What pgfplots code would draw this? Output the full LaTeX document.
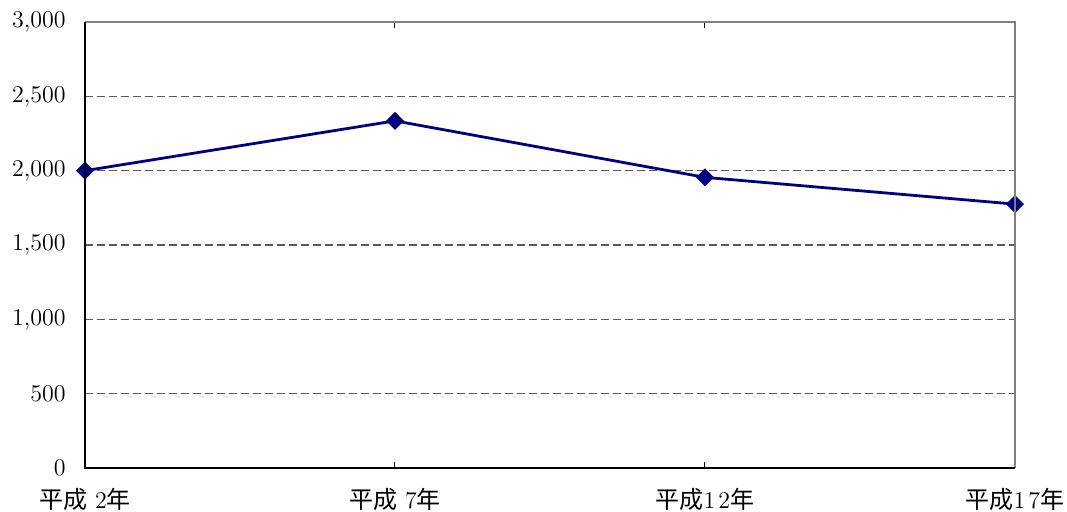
\documentclass[border=0pt]{standalone}
\usepackage{pgfplots}
\pgfplotsset{compat=1.18}
\usepackage{fontspec}
\newfontfamily\cjk{Noto Sans CJK JP}
\definecolor{navyline}{RGB}{0,0,128}
\definecolor{gridgray}{RGB}{90,90,90}
\definecolor{boxgray}{RGB}{128,128,128}
\begin{document}
\begin{tikzpicture}
\begin{axis}[
  scale only axis,
  width=465pt, height=223pt,
  xmin=0, xmax=3, ymin=0, ymax=3000,
  xtick={0,1,2,3},
  xticklabels={{\cjk 平成}\,\,2{\cjk 年},{\cjk 平成}\,\,7{\cjk 年},{\cjk 平成}1\kern1.5pt2{\cjk 年},{\cjk 平成}1\kern1.5pt7{\cjk 年}},
  ytick={0,500,1000,1500,2000,2500,3000},
  yticklabels={0,500,{1,000},{1,500},{2,000},{2,500},{3,000}},
  tick label style={font=\fontsize{12}{14}\selectfont},
  yticklabel style={inner sep=0pt, xshift=-9.5pt},
  xticklabel style={inner sep=0pt, anchor=north, yshift=-10pt, font=\fontsize{12}{14}\selectfont},
  tick align=inside,
  major tick length=3pt,
  ytick style={draw=none},
  xtick style={black, line width=0.5pt},
  axis line style={draw=none},
  ymajorgrids,
  grid style={gridgray, line width=0.6pt, dash pattern=on 4pt off 2pt},
  clip=false,
]
\addplot[navyline, line width=1.4pt, mark=square*, mark size=2.5pt, mark options={solid, fill=navyline, rotate=45}]
  coordinates {(0,2000) (1,2335) (2,1955) (3,1775)};
\end{axis}
\draw[boxgray, line width=1pt] (0,223pt) -- (465pt,223pt) -- (465pt,0);
\draw[black, line width=1pt] (0,223pt) -- (0,0) -- (465pt,0);
\path (-42.5pt,-21.5pt) rectangle (491pt,234pt);
\end{tikzpicture}
\end{document}
